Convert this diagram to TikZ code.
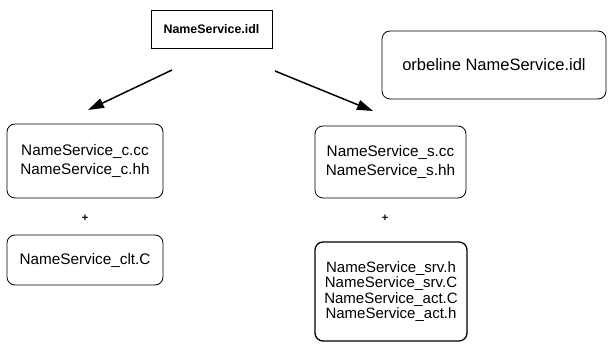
\documentclass[tikz,border=0pt]{standalone}
\usepackage{fontspec}
\setmainfont{Liberation Sans}
\usetikzlibrary{arrows.meta}
\tikzset{
  filebox/.style={draw=black, line width=0.8pt, rounded corners=8pt, align=center, inner sep=0pt,
    font=\fontsize{15.3}{19}\selectfont},
  topbox/.style={draw=black, line width=0.8pt, align=center, inner sep=0pt,
    font=\fontsize{12.4}{14}\selectfont\bfseries},
  plus/.style={inner sep=0pt, font=\fontsize{11}{12}\selectfont\bfseries},
  genarrow/.style={line width=1.5pt, -{Triangle[length=16pt,width=10pt]}}
}
\begin{document}
\begin{tikzpicture}[x=1pt,y=-1pt]
\useasboundingbox (0,0) rectangle (610,347);
\node[topbox, minimum width=121pt, minimum height=38pt] (idl) at (211.5,29) {NameService.idl};
\node[filebox, minimum width=224pt, minimum height=68pt, font=\fontsize{16.5}{19}\selectfont] (orb) at (494,65) {orbeline NameService.idl};
\node[filebox, minimum width=156pt, minimum height=74pt] (cstub) at (85,161) {NameService\_c.cc\\NameService\_c.hh};
\node[plus] (pl) at (85,218) {+};
\node[filebox, minimum width=156pt, minimum height=50pt] (clt) at (85,260) {NameService\_clt.C};
\node[filebox, minimum width=151pt, minimum height=72pt] (sstub) at (390.5,162) {NameService\_s.cc\\NameService\_s.hh};
\node[plus] (pr) at (385,218) {+};
\node[filebox, line width=1.3pt, minimum width=152pt, minimum height=99pt, font=\fontsize{15}{15.6}\selectfont] (srv) at (391,291.5) {NameService\_srv.h\\NameService\_srv.C\\NameService\_act.C\\NameService\_act.h};
\coordinate (la) at (172,70);
\coordinate (lb) at (88,110);
\coordinate (ra) at (275,71);
\coordinate (rb) at (373,111);
\draw[genarrow] (la) -- (lb);
\draw[genarrow] (ra) -- (rb);
\end{tikzpicture}
\end{document}
